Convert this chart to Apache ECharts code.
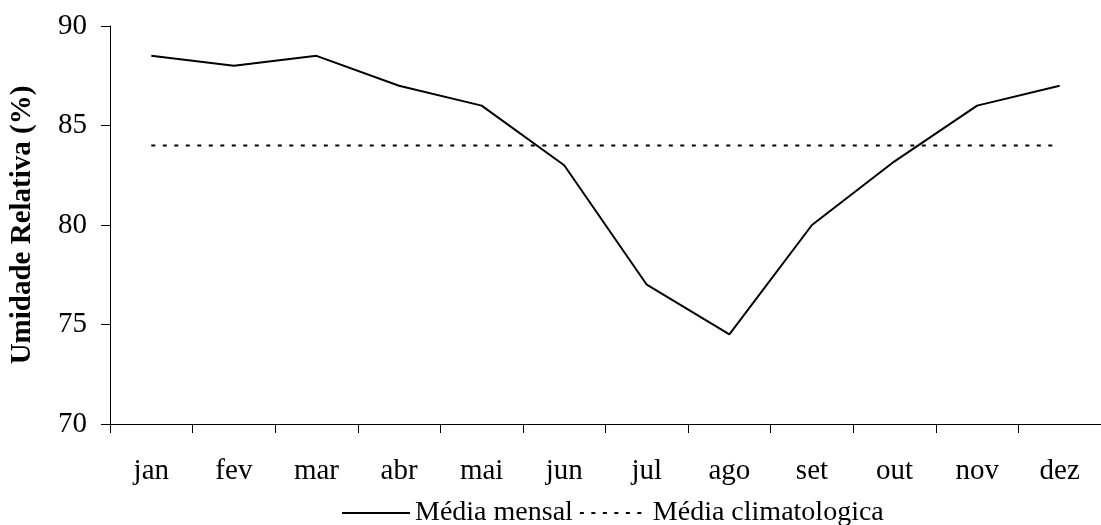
<!DOCTYPE html>
<html>
<head>
<meta charset="utf-8">
<script src="https://cdn.jsdelivr.net/npm/echarts@6/dist/echarts.min.js"></script>
<style>
html,body{margin:0;padding:0;background:#fff;}
#chart{width:1101px;height:525px;}
</style>
</head>
<body>
<div id="chart"></div>
<script>
const months = ['jan','fev','mar','abr','mai','jun','jul','ago','set','out','nov','dez'];
const mediaMensal = [88.5, 88, 88.5, 87, 86, 83, 77, 74.5, 80, 83.2, 86, 87];
const mediaClimatologica = [84, 84, 84, 84, 84, 84, 84, 84, 84, 84, 84, 84];
const yTicks = { min: 70, max: 90, interval: 5 };

const font = '"Liberation Serif", "Times New Roman", serif';
const chart = echarts.init(document.getElementById('chart'), null, { renderer: 'canvas' });
chart.setOption({
  animation: false,
  backgroundColor: '#fff',
  textStyle: { fontFamily: font, color: '#000' },
  grid: { left: 107, right: -8, top: 26, bottom: 101, containLabel: false },
  legend: {
    top: 494,
    left: 336,
    itemWidth: 68,
    itemHeight: 14,
    itemGap: 6,
    itemStyle: { opacity: 0 },
    textStyle: { fontFamily: font, fontSize: 28, color: '#000' },
    data: ['Média mensal', 'Média climatologica']
  },
  xAxis: {
    type: 'category',
    data: months,
    boundaryGap: true,
    axisLine: { lineStyle: { color: '#000', width: 1 } },
    axisTick: { show: true, length: 9, inside: false, lineStyle: { color: '#000' } },
    axisLabel: { fontFamily: font, fontSize: 29, color: '#000', margin: 33 },
    splitLine: { show: false }
  },
  yAxis: {
    type: 'value',
    min: yTicks.min, max: yTicks.max, interval: yTicks.interval,
    name: 'Umidade Relativa (%)',
    nameLocation: 'middle',
    nameGap: 73,
    nameTextStyle: { fontFamily: font, fontSize: 29, fontWeight: 'bold', color: '#000' },
    axisLine: { show: true, lineStyle: { color: '#000', width: 1 } },
    axisTick: { show: true, length: 9, lineStyle: { color: '#000' } },
    axisLabel: { fontFamily: font, fontSize: 29, color: '#000', margin: 23 },
    splitLine: { show: false }
  },
  series: [
    {
      name: 'Média mensal',
      type: 'line',
      data: mediaMensal,
      symbol: 'none',
      lineStyle: { color: '#000', width: 2 },
      itemStyle: { color: '#000' }
    },
    {
      name: 'Média climatologica',
      type: 'line',
      data: mediaClimatologica,
      symbol: 'none',
      lineStyle: { color: '#000', width: 2, type: [4, 7.5] },
      itemStyle: { color: '#000' }
    }
  ]
});
</script>
</body>
</html>
